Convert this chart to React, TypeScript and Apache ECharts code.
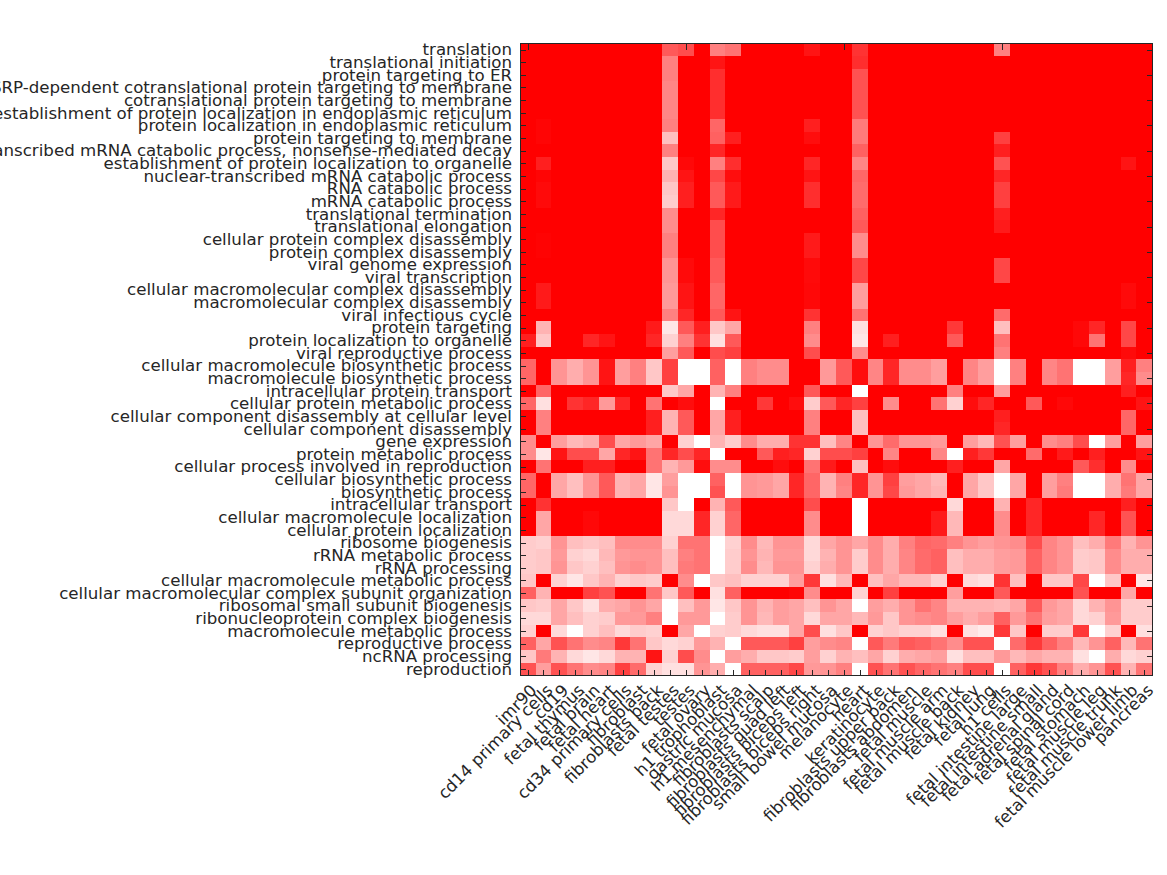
import React, { useEffect, useRef } from "react";
import * as echarts from "echarts";

const tissues = ["imr90","cd14 primary cells","cd19","fetal thymus","fetal brain","fetal heart","cd34 primary cells","fibroblast","fibroblasts back","fetal testes","testes","fetal ovary","h1 trophoblast","gastric mucosa","h1 mesenchymal","fibroblasts scalp","fibroblasts quad left","fibroblasts biceps left","fibroblasts biceps right","small bowel mucosa","melanocyte","heart","keratinocyte","fibroblasts upper back","fibroblasts abdomen","fetal muscle","fetal muscle arm","fetal muscle back","fetal kidney","fetal lung","h1 cells","fetal intestine large","fetal intestine small","fetal adrenal gland","fetal spinal cord","fetal stomach","fetal muscle leg","fetal muscle trunk","fetal muscle lower limb","pancreas"];

const terms = ["translation","translational initiation","protein targeting to ER","SRP-dependent cotranslational protein targeting to membrane","cotranslational protein targeting to membrane","establishment of protein localization in endoplasmic reticulum","protein localization in endoplasmic reticulum","protein targeting to membrane","nuclear-transcribed mRNA catabolic process, nonsense-mediated decay","establishment of protein localization to organelle","nuclear-transcribed mRNA catabolic process","RNA catabolic process","mRNA catabolic process","translational termination","translational elongation","cellular protein complex disassembly","protein complex disassembly","viral genome expression","viral transcription","cellular macromolecular complex disassembly","macromolecular complex disassembly","viral infectious cycle","protein targeting","protein localization to organelle","viral reproductive process","cellular macromolecule biosynthetic process","macromolecule biosynthetic process","intracellular protein transport","cellular protein metabolic process","cellular component disassembly at cellular level","cellular component disassembly","gene expression","protein metabolic process","cellular process involved in reproduction","cellular biosynthetic process","biosynthetic process","intracellular transport","cellular macromolecule localization","cellular protein localization","ribosome biogenesis","rRNA metabolic process","rRNA processing","cellular macromolecule metabolic process","cellular macromolecular complex subunit organization","ribosomal small subunit biogenesis","ribonucleoprotein complex biogenesis","macromolecule metabolic process","reproductive process","ncRNA processing","reproduction"];

const values: number[][] = [
[100,100,100,100,100,100,100,100,100,65,70,100,50,55,100,100,100,100,92,100,100,80,100,100,100,100,100,100,100,100,50,100,100,100,100,100,100,100,100,100],
[100,100,100,100,100,100,100,100,100,50,100,100,92,100,100,100,100,100,100,100,100,82,100,100,100,100,100,100,100,100,100,100,100,100,100,100,100,100,100,100],
[100,100,100,100,100,100,100,100,100,50,100,100,82,100,100,100,100,100,100,100,100,68,100,100,100,100,100,100,100,100,100,100,100,100,100,100,100,100,100,100],
[100,100,100,100,100,100,100,100,100,48,100,100,82,100,100,100,100,100,100,100,100,68,100,100,100,100,100,100,100,100,100,100,100,100,100,100,100,100,100,100],
[100,100,100,100,100,100,100,100,100,48,100,100,82,100,100,100,100,100,100,100,100,68,100,100,100,100,100,100,100,100,100,100,100,100,100,100,100,100,100,100],
[100,100,100,100,100,100,100,100,100,48,100,100,82,100,100,100,100,100,100,100,100,68,100,100,100,100,100,100,100,100,100,100,100,100,100,100,100,100,100,100],
[100,98,100,100,100,100,100,100,100,50,100,100,60,100,100,100,100,100,88,100,100,52,100,100,100,100,100,100,100,100,100,100,100,100,100,100,100,100,100,100],
[100,98,100,100,100,100,100,100,100,25,100,100,62,88,100,100,100,100,95,100,100,52,100,100,100,100,100,100,100,100,75,100,100,100,100,100,100,100,100,100],
[100,100,100,100,100,100,100,100,100,50,100,100,85,100,100,100,100,100,100,100,100,62,100,100,100,100,100,100,100,100,88,100,100,100,100,100,100,100,100,100],
[100,88,100,100,100,100,100,100,100,22,97,100,50,82,100,100,100,100,85,100,100,48,100,100,100,100,100,100,100,100,68,100,100,100,100,100,100,100,92,100],
[100,98,100,100,100,100,100,100,100,30,92,100,72,95,100,100,100,100,92,100,100,60,100,100,100,100,100,100,100,100,85,100,100,100,100,100,100,100,100,100],
[100,96,100,100,100,100,100,100,100,22,88,100,65,90,100,100,100,100,82,100,100,58,100,100,100,100,100,100,100,100,75,100,100,100,100,100,100,100,100,100],
[100,96,100,100,100,100,100,100,100,20,88,100,65,90,100,100,100,100,82,100,100,58,100,100,100,100,100,100,100,100,75,100,100,100,100,100,100,100,100,100],
[100,100,100,100,100,100,100,100,100,45,100,100,85,100,100,100,100,100,100,100,100,62,100,100,100,100,100,100,100,100,88,100,100,100,100,100,100,100,100,100],
[100,100,100,100,100,100,100,100,100,45,100,100,70,100,100,100,100,100,100,100,100,65,100,100,100,100,100,100,100,100,90,100,100,100,100,100,100,100,100,100],
[100,99,100,100,100,100,100,100,100,50,100,100,70,100,100,100,100,100,90,100,100,45,100,100,100,100,100,100,100,100,100,100,100,100,100,100,100,100,100,100],
[100,99,100,100,100,100,100,100,100,50,100,100,70,100,100,100,100,100,90,100,100,45,100,100,100,100,100,100,100,100,100,100,100,100,100,100,100,100,100,100],
[100,100,100,100,100,100,100,100,100,42,96,100,65,100,100,100,100,100,96,100,100,72,100,100,100,100,100,100,100,100,72,100,100,100,100,100,100,100,100,100],
[100,100,100,100,100,100,100,100,100,42,96,100,65,100,100,100,100,100,96,100,100,72,100,100,100,100,100,100,100,100,72,100,100,100,100,100,100,100,100,100],
[100,90,100,100,100,100,100,100,100,40,92,100,60,100,100,100,100,100,97,100,100,38,100,100,100,100,100,100,100,100,100,100,100,100,100,100,100,100,96,100],
[100,90,100,100,100,100,100,100,100,40,92,100,60,100,100,100,100,100,97,100,100,38,100,100,100,100,100,100,100,100,100,100,100,100,100,100,100,100,96,100],
[100,100,100,100,100,100,100,100,100,50,85,100,65,92,100,100,100,100,80,100,100,55,100,100,100,100,100,100,100,100,58,100,100,100,100,100,100,100,100,100],
[100,30,100,100,100,100,100,100,90,10,65,88,22,35,100,100,100,100,50,100,100,12,100,100,100,100,100,78,100,100,25,100,100,100,100,97,85,100,72,100],
[88,22,100,100,85,92,100,100,85,18,50,80,12,65,100,100,100,100,45,100,100,10,100,88,100,100,100,65,100,100,55,100,100,100,100,97,55,100,72,100],
[100,100,100,100,100,100,100,100,100,38,65,100,70,75,100,100,100,100,70,100,100,45,100,100,100,100,100,100,100,100,50,100,100,100,100,100,100,100,96,100],
[60,100,42,32,42,92,38,50,22,75,0,0,62,0,50,45,45,100,100,40,65,95,48,85,45,45,38,100,48,38,0,50,100,48,55,0,0,38,88,50],
[60,100,42,32,42,92,38,50,22,75,0,0,62,0,50,45,45,100,100,40,65,95,48,85,45,45,38,100,48,38,0,50,100,48,55,0,0,38,85,45],
[100,60,100,100,100,100,100,100,100,22,35,100,30,50,100,100,100,100,65,100,100,0,100,100,100,100,100,50,100,100,38,100,100,100,100,100,100,100,88,100],
[60,12,100,80,85,40,85,100,55,100,95,100,0,100,100,78,100,95,20,65,85,75,100,45,100,100,55,18,95,85,100,100,65,100,97,100,100,100,100,92],
[100,50,100,100,100,100,100,100,88,30,65,100,35,88,100,100,100,100,50,100,100,25,100,100,100,100,100,100,100,100,88,100,100,100,100,100,100,100,60,100],
[100,50,100,100,100,100,100,100,88,30,65,100,35,88,100,100,100,100,50,100,100,25,100,100,100,100,100,100,100,100,85,100,100,100,100,100,100,100,60,100],
[45,100,38,28,32,70,35,40,35,100,18,0,30,20,45,32,32,80,80,25,48,100,42,58,42,42,40,100,38,28,68,38,100,45,50,70,0,38,100,38],
[45,10,92,70,70,35,85,92,55,85,70,85,0,100,100,65,88,85,18,70,70,75,100,48,100,100,48,0,88,78,100,100,58,100,90,100,88,100,100,92],
[100,55,100,100,88,88,100,100,55,30,40,95,45,45,100,100,95,100,55,90,100,25,100,95,100,100,100,88,100,100,35,100,100,100,100,65,82,100,45,100],
[60,100,35,25,42,65,30,35,10,38,0,0,62,0,42,40,35,85,60,30,50,85,42,75,38,35,28,100,35,22,0,35,100,38,50,0,0,32,55,35],
[60,100,35,25,42,65,30,35,10,42,0,0,68,0,42,40,35,85,60,30,48,85,42,72,40,35,30,100,35,22,0,35,100,38,52,0,0,32,52,35],
[100,80,100,100,100,100,100,100,100,22,0,100,30,65,100,100,100,100,70,100,100,0,100,100,100,100,100,15,100,100,30,100,85,100,100,100,100,100,88,100],
[100,35,100,100,97,100,100,100,100,15,15,85,18,60,100,100,100,100,45,100,100,0,100,100,100,100,90,28,100,100,45,100,85,100,100,100,85,100,68,100],
[100,35,100,100,97,100,100,100,100,15,15,85,18,60,100,100,100,100,45,100,100,0,100,100,100,100,90,28,100,100,45,100,85,100,100,100,85,100,68,100],
[20,18,42,25,22,25,45,45,45,18,55,55,0,18,45,28,42,42,15,35,42,35,45,32,50,60,58,50,42,38,42,45,70,48,42,25,32,52,30,42],
[20,22,40,18,15,28,40,42,42,25,50,55,0,20,42,30,40,40,15,30,42,20,45,32,48,58,62,25,32,32,38,40,62,48,42,20,22,45,32,32],
[20,22,42,22,18,25,42,45,42,25,52,55,0,20,45,28,42,42,18,32,42,20,45,32,48,58,62,25,32,32,38,40,62,48,42,20,22,45,32,32],
[22,100,18,10,22,30,18,22,20,100,45,0,22,25,18,18,18,38,78,12,28,100,25,35,28,28,18,100,15,12,80,25,100,22,22,72,0,22,100,10],
[62,30,100,100,75,68,100,100,55,22,65,100,12,62,100,100,100,98,45,100,100,18,100,75,100,100,100,38,100,100,65,100,100,100,100,68,100,100,35,100],
[22,20,35,22,12,32,35,42,35,0,25,40,10,22,42,30,38,35,25,42,35,0,38,32,42,55,48,30,30,30,28,35,65,40,35,15,30,42,20,20],
[15,15,35,25,18,20,40,40,50,0,40,40,0,20,42,28,38,35,15,35,35,28,40,22,42,45,48,38,32,38,62,40,55,38,35,15,18,40,20,20],
[18,100,15,0,18,25,15,20,18,100,35,0,18,20,15,12,12,35,70,12,22,100,18,22,18,18,12,100,12,8,78,22,100,20,20,78,0,18,100,12],
[62,35,68,55,45,48,78,55,22,15,18,40,30,0,65,65,65,75,38,45,48,0,65,52,65,62,55,45,68,68,0,58,78,62,50,28,42,62,28,55],
[22,52,30,15,10,15,30,30,92,18,70,45,0,38,32,22,22,20,38,18,30,25,35,18,32,35,38,12,25,25,40,28,35,30,30,12,0,32,15,18],
[68,38,68,55,45,48,75,58,18,12,12,42,32,0,62,62,62,72,40,42,50,0,68,55,68,60,55,50,70,70,0,62,78,68,50,32,42,68,30,55],
];

const ink = "#262626";
const cells = values.flatMap((row, y) => row.map((v, x) => [x, y, v]));

export default function App() {
  const ref = useRef<HTMLDivElement>(null);
  useEffect(() => {
    const chart = echarts.init(ref.current!, undefined, { renderer: "svg" });
    const tick = { show: true, inside: true, alignWithLabel: true, length: 6, lineStyle: { color: ink, width: 1 } };
    const line = { show: true, onZero: false, lineStyle: { color: ink, width: 1 } };
    chart.setOption({
      animation: false,
      backgroundColor: "#ffffff",
      grid: { left: 520, top: 43.5, width: 632.5, height: 632, containLabel: false, outerBoundsMode: "none" },
      visualMap: { show: false, min: 0, max: 100, inRange: { color: ["#ffffff", "#ff0000"] } },
      xAxis: [
        { type: "category", data: tissues, position: "bottom", z: 10, axisLine: line, axisTick: tick, splitLine: { show: false },
          axisLabel: { interval: 0, rotate: 45, margin: 6, verticalAlign: "top", hideOverlap: false, fontFamily: "DejaVu Sans", fontSize: 16.65, color: ink } },
        { type: "category", data: tissues, position: "top", z: 10, axisLine: line, axisTick: tick, axisLabel: { show: false }, splitLine: { show: false } },
      ],
      yAxis: [
        { type: "category", data: terms, inverse: true, position: "left", z: 10, axisLine: line, axisTick: tick, splitLine: { show: false },
          axisLabel: { interval: 0, margin: 8, hideOverlap: false, fontFamily: "DejaVu Sans", fontSize: 16.65, color: ink } },
        { type: "category", data: terms, inverse: true, position: "right", z: 10, axisLine: line, axisTick: tick, axisLabel: { show: false }, splitLine: { show: false } },
      ],
      series: [{ type: "heatmap", data: cells, xAxisIndex: 0, yAxisIndex: 0, itemStyle: { borderWidth: 0 }, progressive: 0 }],
    });
    return () => chart.dispose();
  }, []);
  return (
    <>
      <style>{"#heat svg path { shape-rendering: crispEdges; }"}</style>
      <div id="heat" ref={ref} style={{ position: "absolute", left: 0, top: 0, width: 1167, height: 875 }} />
    </>
  );
}
